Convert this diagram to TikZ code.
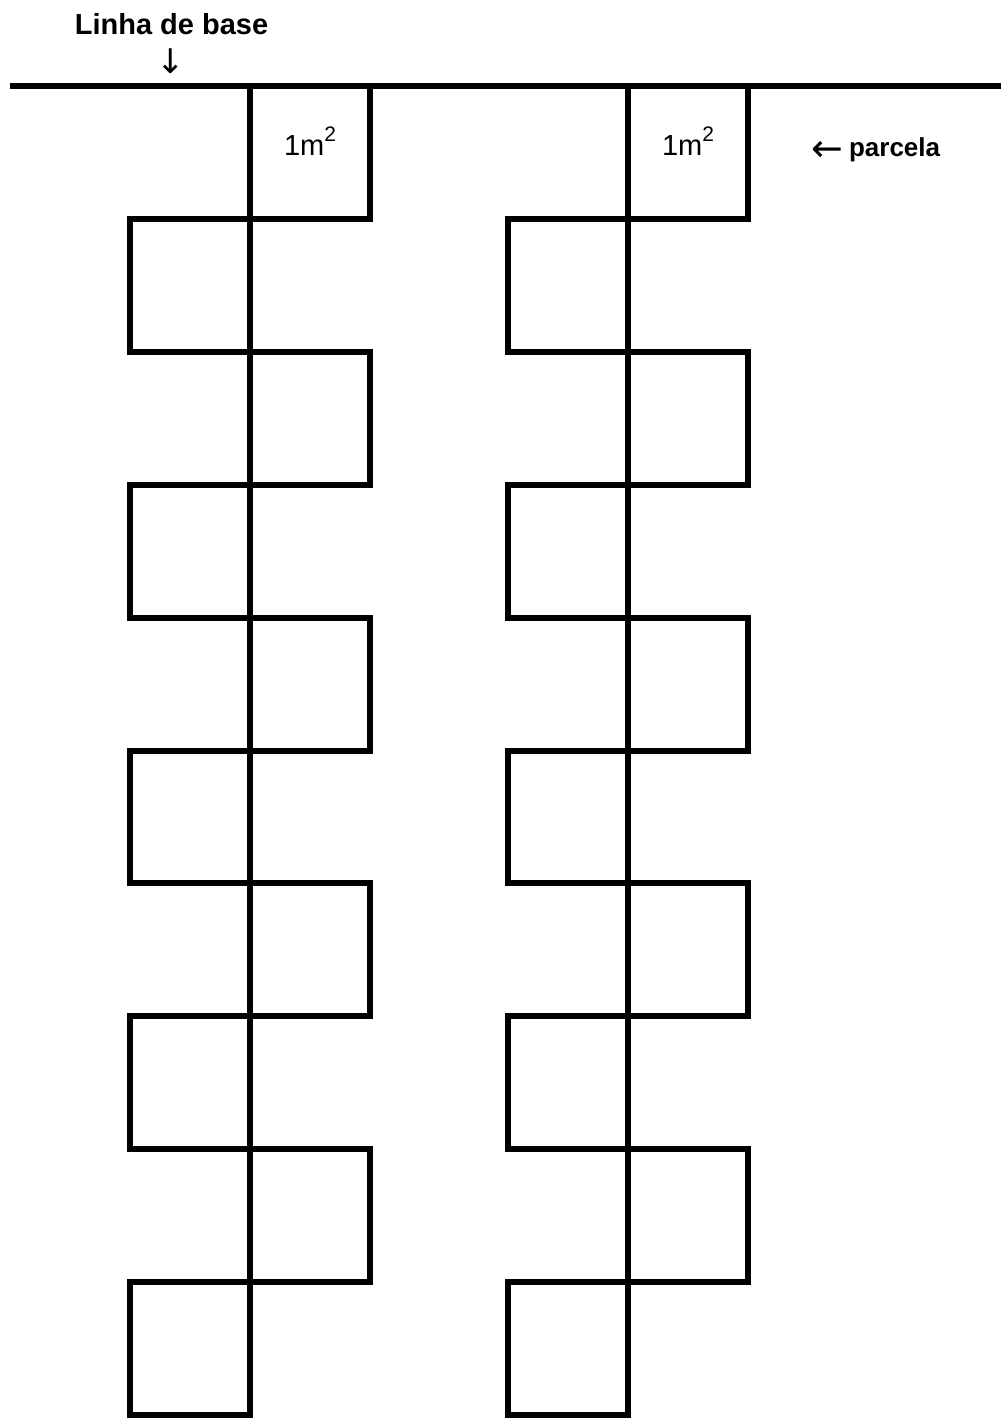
\documentclass[tikz,border=0pt]{standalone}
\usepackage{fontspec}
\setmainfont{Liberation Sans}
\newfontfamily\arrowfont{DejaVu Sans}
\begin{document}
\begin{tikzpicture}[x=1pt,y=-1pt,
  edge/.style={line width=6pt, line join=miter},
  lbl/.style={inner sep=0pt, anchor=base, font=\bfseries\fontsize{26}{30}\selectfont},
  area/.style={inner sep=0pt, anchor=base, font=\fontsize{29}{32}\selectfont}]
\useasboundingbox (0,0) rectangle (1001,1418);
\def\rowh{132.9}
% baseline
\coordinate (bl) at (10,86);
\coordinate (br) at (1001,86);
\draw[edge] (bl) -- (br);
% columns
\foreach \c/\cx in {A/250, B/628}{
  \coordinate (\c top) at (\cx,86);
  \coordinate (\c bot) at (\cx,1415);
  \draw[edge] (\c top) -- (\c bot);
  \foreach \k in {0,2,4,6,8}{
    \draw[edge] (\cx,{86+\k*\rowh}) rectangle ({\cx+120},{86+(\k+1)*\rowh});
  }
  \foreach \k in {1,3,5,7,9}{
    \draw[edge] ({\cx-120},{86+\k*\rowh}) rectangle (\cx,{86+(\k+1)*\rowh});
  }
}
% labels
\node[lbl, font=\bfseries\fontsize{29}{32}\selectfont] (title) at (171.5,35) {Linha de base};
\node[inner sep=0pt, font=\arrowfont\fontsize{34}{36}\selectfont] (down) at (171,61) {↓};
\node[area] (m1) at (310,155) {1m\raisebox{14pt}{\fontsize{21}{22}\selectfont 2}};
\node[area] (m2) at (688,155) {1m\raisebox{14pt}{\fontsize{21}{22}\selectfont 2}};
\node[lbl, anchor=base west] (parc) at (811,157) {\raisebox{-5pt}{\arrowfont\mdseries\fontsize{38}{40}\selectfont ←}\hspace{6pt}parcela};
\end{tikzpicture}
\end{document}
